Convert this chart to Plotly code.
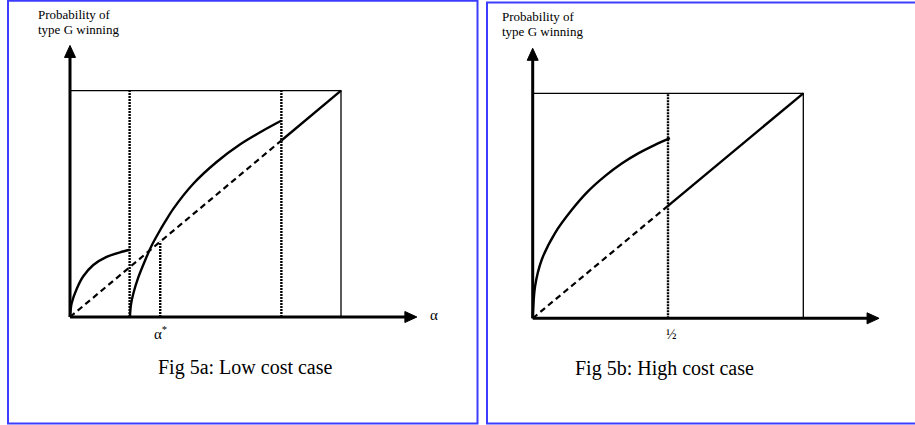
import plotly.graph_objects as go

# ---------------- Fig 5a: low cost case ----------------
cut_low_5a = 0.22          # first threshold (dotted)
alpha_star = 0.333         # alpha*
cut_high_5a = 0.78         # second threshold (dotted)

# concave branch starting at the origin
a_curve1_x = [0.0, 0.006, 0.025, 0.049, 0.086, 0.135, 0.185, 0.221]
a_curve1_y = [0.0, 0.060, 0.125, 0.180, 0.230, 0.266, 0.286, 0.297]

# branch starting at the first threshold
a_curve2_x = [0.221, 0.225, 0.234, 0.252, 0.277, 0.301, 0.326, 0.351, 0.381,
              0.455, 0.541, 0.627, 0.713, 0.779]
a_curve2_y = [0.0, 0.055, 0.105, 0.175, 0.250, 0.315, 0.370, 0.421, 0.478,
              0.589, 0.685, 0.762, 0.824, 0.867]

# ---------------- Fig 5b: high cost case ----------------
cut_5b = 0.5
b_curve_x = [0.0, 0.0085, 0.033, 0.082, 0.144, 0.205, 0.267, 0.329, 0.39,
             0.452, 0.507]
b_curve_y = [0.0, 0.14, 0.259, 0.378, 0.481, 0.565, 0.632, 0.688, 0.733,
             0.771, 0.801]

# axis arrow tips (data units)
x_tip = 1.28
y_tip = 1.20

captions = ["Fig 5a: Low cost case", "Fig 5b: High cost case"]
y_title = ["Probability of", "type G winning"]

BLACK = "#000000"
SERIF = "Liberation Serif, Times New Roman, serif"

fig = go.Figure()


def line(x, y, ax, width=2.2, dash=None, shape="linear"):
    fig.add_trace(go.Scatter(
        x=x, y=y, mode="lines", xaxis=ax[0], yaxis=ax[1],
        line=dict(color=BLACK, width=width, dash=dash, shape=shape,
                  smoothing=0.8),
        hoverinfo="skip", cliponaxis=False))


def arrowheads(ax, sx, sy):
    # filled triangles at the axis ends; sx, sy = pixels per data unit
    hl, hw = 12, 5.5
    fig.add_trace(go.Scatter(
        x=[0, -hw / sx, hw / sx, 0], y=[y_tip, y_tip - hl / sy,
                                          y_tip - hl / sy, y_tip],
        mode="lines", fill="toself", fillcolor=BLACK, xaxis=ax[0],
        yaxis=ax[1], line=dict(color=BLACK, width=1), hoverinfo="skip",
        cliponaxis=False))
    fig.add_trace(go.Scatter(
        x=[x_tip, x_tip - hl / sx, x_tip - hl / sx, x_tip],
        y=[0, hw / sy, -hw / sy, 0],
        mode="lines", fill="toself", fillcolor=BLACK, xaxis=ax[0],
        yaxis=ax[1], line=dict(color=BLACK, width=1), hoverinfo="skip",
        cliponaxis=False))


def frame(ax, sx, sy):
    # unit box (top and right sides)
    line([0, 1, 1], [1, 1, 0], ax, width=1.3)
    # axes
    line([0, 0], [0, y_tip - 0.03], ax, width=3)
    line([0, x_tip - 0.03], [0, 0], ax, width=3)
    arrowheads(ax, sx, sy)


A = ("x", "y")
B = ("x2", "y2")
DOTS = "2px,1px"

# ----- panel a -----
frame(A, 271, 226.3)
line([cut_low_5a, cut_low_5a], [0, 1], A, width=2.4, dash=DOTS)
line([cut_high_5a, cut_high_5a], [0, 1], A, width=2.4, dash=DOTS)
line([alpha_star, alpha_star], [0, alpha_star], A, width=2.4, dash=DOTS)
line([0, cut_high_5a], [0, cut_high_5a], A, width=2.2, dash="6px,4px")
line([cut_high_5a, 1], [cut_high_5a, 1], A, width=2.4)
line(a_curve1_x, a_curve1_y, A, width=2.4, shape="spline")
line(a_curve2_x, a_curve2_y, A, width=2.4, shape="spline")

# ----- panel b -----
frame(B, 270.6, 225)
line([cut_5b, cut_5b], [0, 1], B, width=2.4, dash=DOTS)
line([0, cut_5b], [0, cut_5b], B, width=2.2, dash="6px,4px")
line([cut_5b, 1], [cut_5b, 1], B, width=2.4)
line(b_curve_x, b_curve_y, B, width=2.4, shape="spline")

# axis ranges so both panels keep the same pixel geometry
fig.update_layout(
    xaxis=dict(domain=[0, 0.5], range=[-0.2583, 1.4299], visible=False),
    yaxis=dict(domain=[0, 1], range=[-0.4772, 1.4008], visible=False),
    xaxis2=dict(domain=[0.5, 1], range=[-0.2779, 1.4128], visible=False),
    yaxis2=dict(domain=[0, 1], range=[-0.4742, 1.4147], visible=False,
                anchor="x2"),
)

annotations = []

# y axis titles
for px, yoff in [(36, 0), (500, 1.5)]:
    for i, t in enumerate(y_title):
        annotations.append(dict(x=px / 915, y=1 - (15 + 15 * i + yoff) / 425,
                                xref="paper", yref="paper", text=t,
                                showarrow=False, xanchor="left",
                                yanchor="middle",
                                font=dict(family=SERIF, size=13,
                                          color=BLACK)))

# tick-like labels
annotations.append(dict(x=1.345, y=0.01, xref="x", yref="y", text="α",
                        showarrow=False, xanchor="center", yanchor="middle",
                        font=dict(family=SERIF, size=15, color=BLACK)))
annotations.append(dict(x=alpha_star, y=-0.072, xref="x", yref="y",
                        text="α<sup>*</sup>", showarrow=False,
                        xanchor="center", yanchor="middle",
                        font=dict(family=SERIF, size=15, color=BLACK)))
annotations.append(dict(x=cut_5b + 0.012, y=-0.07, xref="x2", yref="y2",
                        text="½", showarrow=False, xanchor="center",
                        yanchor="middle",
                        font=dict(family=SERIF, size=14, color=BLACK)))

# captions
annotations.append(dict(x=245 / 915, y=1 - 367 / 425, xref="paper",
                        yref="paper", text=captions[0], showarrow=False,
                        xanchor="center", yanchor="middle",
                        font=dict(family=SERIF, size=20, color=BLACK)))
annotations.append(dict(x=664 / 915, y=1 - 368 / 425, xref="paper",
                        yref="paper", text=captions[1], showarrow=False,
                        xanchor="center", yanchor="middle",
                        font=dict(family=SERIF, size=20, color=BLACK)))

# blue panel frames
BLUE = "#3d3dff"
shapes = [
    dict(type="rect", xref="paper", yref="paper", x0=8 / 915, x1=477.5 / 915,
         y0=1 - 423.5 / 425, y1=1 - 0.8 / 425, line=dict(color=BLUE, width=2)),
    dict(type="rect", xref="paper", yref="paper", x0=487 / 915, x1=917 / 915,
         y0=1 - 423.5 / 425, y1=1 - 2.5 / 425, line=dict(color=BLUE, width=2)),
]

fig.update_layout(
    width=915, height=425, margin=dict(l=0, r=0, t=0, b=0),
    paper_bgcolor="white", plot_bgcolor="white", showlegend=False,
    annotations=annotations, shapes=shapes,
)

fig.write_html("out.html", config={"displayModeBar": False})
